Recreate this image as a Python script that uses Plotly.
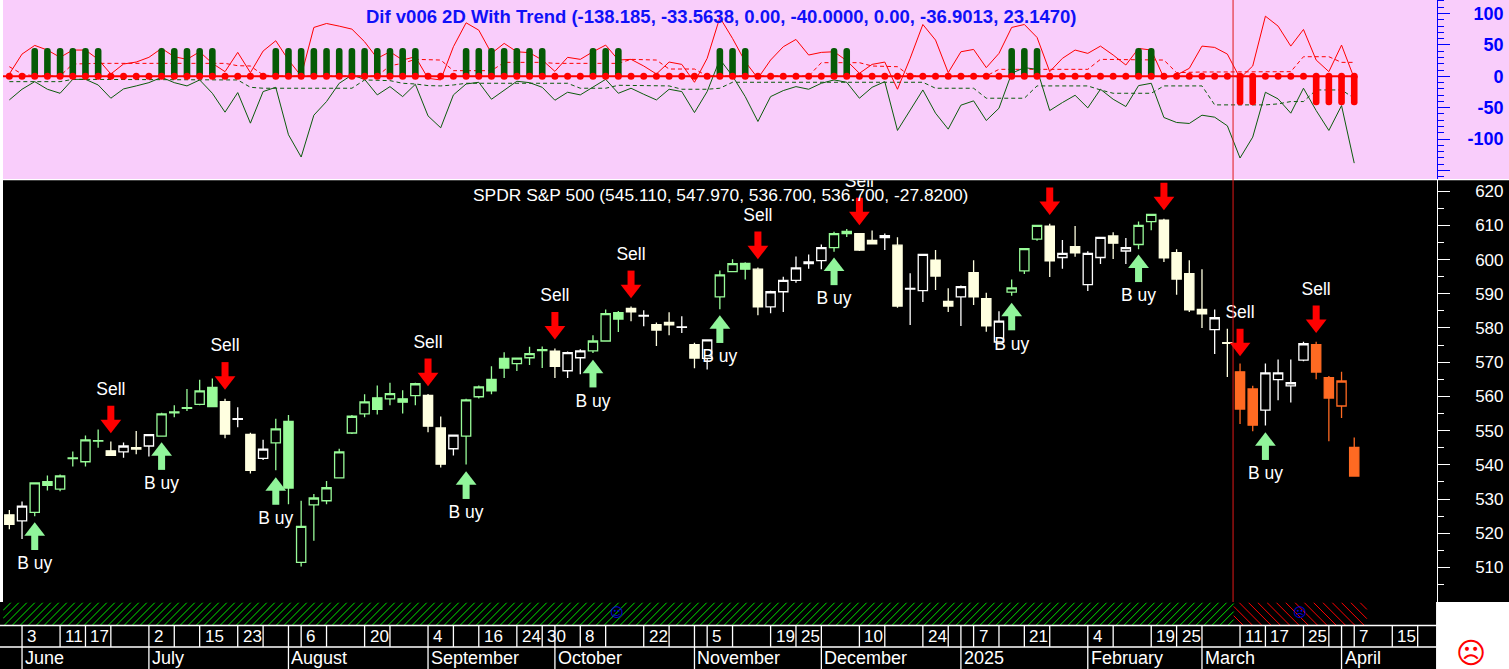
import plotly.graph_objects as go

W, H = 1509, 669

opens = [525.4,523.6,526.1,535.1,532.9,541.8,540.9,546.9,544.1,543.8,545.0,545.5,548.4,555.2,556.5,557.7,562.6,558.5,553.3,548.9,541.9,546.4,552.7,511.5,528.3,529.5,536.2,549.3,554.9,559.6,559.3,559.3,560.2,560.3,550.8,544.7,548.4,559.9,565.0,571.1,569.6,571.3,573.4,573.2,567.5,571.3,573.3,576.2,584.5,585.7,583.5,581.0,581.6,580.2,575.1,571.1,589.1,596.5,598.9,597.2,586.2,590.6,593.9,598.8,599.7,603.5,607.6,607.6,605.6,606.4,604.2,591.4,590.9,599.8,587.8,589.1,596.2,588.6,575.9,590.5,596.7,606.0,609.8,600.6,603.8,592.7,600.6,606.9,602.5,604.4,611.1,611.5,602.0,595.9,585.4,579.5,575.7,567.2,562.2,556.0,564.9,563.1,570.6,575.1,565.5,557.2,545.11]
highs = [526.8,529.3,534.7,536.9,537.2,543.9,548.6,550.3,546.8,546.5,549.9,548.8,555.2,557.4,562.2,564.9,565.2,559.3,556.8,549.4,547.3,553.5,554.6,529.5,531.5,535.3,544.7,554.6,560.6,563.2,564.0,561.8,564.0,560.7,554.1,548.7,559.3,563.2,568.8,572.9,571.2,574.5,574.6,574.0,573.1,573.8,577.9,585.4,585.0,586.3,585.2,581.6,584.6,583.4,575.7,576.5,596.8,600.1,599.2,597.7,590.9,595.0,600.9,601.5,604.4,608.1,608.9,607.7,608.5,607.6,606.5,596.0,601.5,602.8,591.6,592.4,599.8,590.3,584.9,594.2,603.2,610.0,610.5,605.7,609.8,602.4,606.5,608.0,606.3,611.1,613.2,611.9,603.0,599.8,597.2,585.4,579.8,569.6,563.1,569.6,570.8,570.8,576.0,576.0,566.0,567.2,547.97]
lows = [521.2,518.3,525.0,532.5,532.3,539.5,539.5,545.0,542.8,542.1,543.1,542.4,548.4,553.9,555.7,557.4,557.0,547.8,551.0,537.5,541.4,538.4,528.5,510.3,517.8,528.5,536.1,549.0,553.9,554.7,557.4,555.0,557.4,549.5,539.2,542.7,540.1,559.4,560.6,565.4,567.4,569.2,568.3,565.4,565.4,566.5,572.7,576.0,578.8,582.0,580.5,574.7,577.9,578.5,568.2,567.9,585.5,596.5,594.2,583.7,584.3,584.7,593.2,597.3,597.2,602.3,606.6,602.5,604.6,602.8,585.9,580.9,587.6,591.1,584.7,580.6,586.7,578.9,575.9,589.4,595.8,605.5,594.9,597.3,600.8,590.8,598.7,600.2,598.7,603.0,608.6,599.3,589.7,584.7,580.0,572.4,565.7,551.9,549.8,551.5,558.9,558.2,570.3,565.0,546.9,553.7,536.7]
closes = [522.6,527.9,534.7,534.0,536.8,542.0,547.3,547.1,542.8,545.5,544.6,548.8,554.9,555.5,556.7,561.6,557.0,549.0,553.5,538.4,544.6,550.5,533.2,522.0,530.3,533.3,543.8,554.2,558.4,556.2,560.8,558.3,563.7,551.3,540.2,548.7,559.0,562.8,561.6,568.3,571.2,572.5,573.7,568.8,572.8,573.3,576.2,584.2,582.6,584.7,583.7,579.4,580.9,580.3,571.2,576.5,595.5,598.8,597.2,586.2,590.6,593.9,597.6,599.3,603.5,607.6,608.2,602.8,604.6,607.0,586.4,591.6,601.5,595.2,586.4,592.1,589.1,580.6,582.0,591.7,603.2,610.0,599.6,601.8,602.0,601.8,606.5,604.8,603.5,610.0,613.2,600.5,594.3,585.3,584.1,583.0,575.5,556.3,551.6,566.9,566.9,564.0,575.4,567.1,559.5,564.5,536.7]
trend_state = "WWGGGGGGWWWWGGGGGWWWWGGGGGGGGGGGGWWWGGGGGGGWWWGGGWWWWWWWGGGWWWWWWGGWWWWWWWWWWWWGGGWWWWWWWGGWWWWWWOOWWWWOOOO"

dif_upper = [3.7,35.4,49.2,41.8,30.2,41.8,41.8,27,3.7,19.6,22.7,30.2,44.4,31.2,27,39.1,20.6,7.4,38.1,5.8,40.2,56.6,25.9,0.5,77.8,84.1,79.9,75.1,55,28.6,39.1,25.9,31.2,-3.2,-5.8,47.1,85.2,73.5,36.5,52.4,39.1,37.6,25.9,7.9,30.2,27,39.1,49.7,25.9,27,16.4,3.7,22.7,19,-9.5,28.6,93.6,60.3,23.3,-3.2,25.9,47.1,58.7,33.9,38.1,39.1,24.9,4.8,19,22.7,-20.6,28.6,82.5,57.7,5.8,39.1,42.8,13.8,36.5,77.8,82.5,61.9,7.4,28.6,41.8,36.5,48.1,33.9,18,44.4,41.8,-2.6,2.1,12.7,48.1,46,35.4,-3.2,16.4,95.7,79.9,48.1,74.6,25.9,7.4,49.7,-3.2]
dif_lower = [-37.6,-20.6,-8.5,-20.6,-27,-4.8,-4.8,-13.8,-34.9,-20.1,-15.3,-10.1,-1.6,-10.1,-15.3,-5.8,-27,-57.1,-25.9,-74.6,-24.3,-17.5,-93.1,-128.5,-61.9,-40.2,-11.1,2.1,-4.8,-29.6,-16.4,-32.3,-12.7,-63,-82,-29.6,-12.2,-9.5,-36.5,-22.7,-7.9,-10.1,-17.5,-38.1,-25.4,-29.6,-17.5,-4.8,-27,-19,-28.6,-37.6,-20.6,-24.3,-57.7,-24.3,27,0.5,-32.3,-71.9,-32.3,-22.7,-16.4,-20.6,-11.1,-5.8,-9.5,-34.9,-17.5,-8.5,-86.2,-53.4,-21.7,-58.7,-84.1,-46,-39.1,-70.4,-50.8,4.8,13.8,11.1,-54.5,-41.8,-30.2,-50.3,-20.6,-36.5,-48.1,-14.8,-11.1,-65.6,-73.5,-75.1,-61.9,-65.1,-78.8,-130.1,-96.8,-25.4,-36,-58.7,-19,-54.5,-86.2,-46.6,-138.2]
band_upper = [15.3,3.7,0.5,0.5,0.5,19.6,20.6,20.6,20.6,20.6,20.6,20.6,20.6,20.6,20.6,20.6,20.6,20.6,16.9,16.4,2.1,0.5,0.5,0.5,0.5,0.5,0.5,0.5,0.5,0.5,16.9,20.6,27,27,25.9,9,9,9,9,22.2,22.2,22.2,22.2,20.6,20.6,20.6,20.6,20.6,20.6,27,27,25.9,11.6,11.6,11.6,0.5,0.5,0.5,0.5,0.5,0.5,0.5,0.5,0.5,21.7,21.7,21.7,21.7,16.4,15.3,15.3,0.5,0.5,0.5,0.5,0.5,0.5,0.5,11.1,11.1,11.1,11.1,11.1,11.1,11.1,11.1,27,27,27,27,27,25.9,5.8,6.9,6.9,6.9,6.9,6.9,6.9,6.9,7.4,7.4,31.2,31.2,31.2,22.2,22.2]
band_lower = [-8.5,-8.5,-8.5,-8.5,-8.5,-4.8,-4.8,-4.8,-4.8,-4.8,-4.8,-4.8,-4.8,-4.8,-4.8,-4.8,-4.8,-4.8,-5.8,-17.5,-19,-19,-19,-19,-19,-19,-19,-19,-5.8,-5.8,-6.9,-11.1,-12.2,-14.8,-15.3,-13.8,-11.1,-11.1,-11.1,-11.1,-11.1,-11.1,-11.1,-11.1,-11.1,-19,-19,-19,-14.3,-14.3,-14.3,-14.3,-15.3,-20.6,-20.6,-20.6,-19,-9.5,-9.5,-9.5,-9.5,-9.5,-9.5,-9.5,-9.5,-9.5,-9.5,-9.5,-9.5,-9.5,-9.5,-9.5,-9.5,-19,-19,-19,-19,-34.9,-34.9,-34.9,-34.9,-15.3,-15.3,-15.3,-15.3,-15.3,-21.7,-27,-27,-27,-27,-15.3,-15.3,-15.3,-15.3,-45.5,-45.5,-45.5,-45.5,-45.5,-43.9,-40.2,-40.2,-21.7,-21.7,-21.7,-34.9]
bull_signal_value = 45
bear_signal_value = -46

buy_index = [2,12,21,36,46,56,65,79,89,99]
buy_tip = [523.2,546.6,536.4,538.1,570.7,583.7,600.6,587.4,601.5,549.5]
sell_index = [8,17,33,43,49,59,67,82,91,97,103]
sell_tip = [549.2,561.95,563,576.6,588.7,600.1,610,613,614.4,571.7,578.5]

day_ticks = [1,4,6,8,11,13,15,18,20,22,23,25,28,30,33,35,37,40,42,43,45,47,50,52,54,55,57,60,62,64,67,69,72,74,75,76,78,80,82,85,87,90,92,94,97,99,102,104,105,106,109,111]
day_labels = ["3","11","17","","2","","15","23","","","6","","20","","4","","16","24","30","","8","","22","","","5","","19","25","","10","","24","","","7","","21","","4","","19","25","","11","17","25","","","7","15",""]
month_ticks = [1,11,22,33,43,54,64,75,85,94,105]
month_labels = ["June","July","August","September","October","November","December","2025","February","March","April"]

band_segments_start = [-0.5, 96.5]
band_segments_end = [96.5, 107.0]
cursor_index = 96.45

price_title = "SPDR S&P 500 (545.110, 547.970, 536.700, 536.700, -27.8200)"
dif_title = "Dif v006 2D With Trend (-138.185, -33.5638, 0.00, -40.0000, 0.00, -36.9013, 23.1470)"

FONT = "Liberation Sans"
GREEN, CREAM, ORANGE = "#98FB98", "#FFFFE0", "#FF6A22"
DK_GREEN = "#0B5C0B"
PINK = "#F9CDFB"
PX_PER_PRICE = 3.416
PX_PER_BAR = 12.69

n = len(closes)
index = list(range(n))
fx = lambda p: p / W
fy = lambda p: 1 - p / H

fig = go.Figure()

# --- indicator lines
for y, color, dash in [(band_upper, "#FF0000", "4px,3px"), (band_lower, DK_GREEN, "4px,3px"),
                       (dif_upper, "#FF0000", None), (dif_lower, DK_GREEN, None)]:
    fig.add_trace(go.Scatter(x=index, y=y, mode="lines", yaxis="y2",
                             line=dict(color=color, width=1, dash=dash), hoverinfo="skip"))

# --- signal bars and zero dots, above the lines
bull_x = [i for i in index if trend_state[i] == "G"]
bear_x = [i for i in index if trend_state[i] == "O"]
fig.add_trace(go.Bar(x=bull_x, y=[bull_signal_value for _ in bull_x], yaxis="y6", width=0.52,
                     marker=dict(color="#065A06", cornerradius=3, opacity=1, line=dict(width=0))))
fig.add_trace(go.Bar(x=bear_x, y=[bear_signal_value for _ in bear_x], yaxis="y6", width=0.52,
                     marker=dict(color="#FF0000", cornerradius=3, opacity=1, line=dict(width=0))))
fig.add_trace(go.Scatter(x=[-0.5, n - 1], y=[0, 0], yaxis="y6", mode="lines",
                         line=dict(color="#FF0000", width=2)))
fig.add_trace(go.Scatter(x=index, y=[0 for _ in index], yaxis="y6", mode="markers",
                         marker=dict(color="#FF0000", size=7)))

# --- candles
for key, up_line, down_line in [("G", GREEN, GREEN), ("W", "#FFFFFF", CREAM), ("O", ORANGE, ORANGE)]:
    ids = [i for i in index if trend_state[i] == key]
    fig.add_trace(go.Candlestick(
        x=ids, open=[opens[i] for i in ids], high=[highs[i] for i in ids],
        low=[lows[i] for i in ids], close=[closes[i] for i in ids],
        increasing=dict(line=dict(color=up_line, width=1.3), fillcolor="#000000"),
        decreasing=dict(line=dict(color=down_line, width=1.3), fillcolor=down_line),
        whiskerwidth=0, hoverinfo="skip"))

# --- buy / sell arrows and labels
HEAD = 9 / PX_PER_PRICE
STEM = 18.5 / PX_PER_PRICE
BUY_TEXT = 42.4 / PX_PER_PRICE
SELL_TEXT = 42.7 / PX_PER_PRICE
for xs, tips, sign, color, symbol, label, tdist in [
        (buy_index, buy_tip, -1, "#90F59A", "triangle-up", "B uy", BUY_TEXT),
        (sell_index, sell_tip, 1, "#FF0000", "triangle-down", "Sell", SELL_TEXT)]:
    fig.add_trace(go.Scatter(x=xs, y=[t + sign * STEM for t in tips], mode="markers",
                             marker=dict(symbol="line-ns", size=13, line=dict(color=color, width=7))))
    fig.add_trace(go.Scatter(x=xs, y=[t + sign * HEAD for t in tips], mode="markers",
                             marker=dict(symbol=symbol, size=18, color=color, line=dict(width=0))))
    fig.add_trace(go.Scatter(x=xs, y=[t + sign * tdist for t in tips], mode="text", text=[label for _ in xs],
                             textposition="middle center", cliponaxis=True,
                             textfont=dict(family=FONT, size=17.5, color="#FFFFFF")))

# --- trend band: 45-degree hatch lines, cut at each segment's ends
RUN = 22.5 / PX_PER_BAR
for x0, x1, rising, color, gap_px in zip(band_segments_start, band_segments_end, [True, False],
                                         ["#00E800", "#FF0000"], [8.0, 9.3]):
    gap = gap_px / PX_PER_BAR
    hx, hy = [], []
    start = x0 - RUN
    while start < x1:
        a, b = start, start + RUN
        ca, cb = max(a, x0), min(b, x1)
        if ca < cb:
            ya, yb = (ca - a) / RUN, (cb - a) / RUN
            if not rising:
                ya, yb = 1 - ya, 1 - yb
            hx += [ca, cb, None]
            hy += [ya, yb, None]
        start += gap
    fig.add_trace(go.Scatter(x=hx, y=hy, yaxis="y3", mode="lines", line=dict(color=color, width=1), hoverinfo="skip"))

# --- empty traces that keep the tick-label axes alive
fig.add_trace(go.Scatter(x=[None], y=[None], yaxis="y4", mode="markers"))
fig.add_trace(go.Scatter(x=[None], y=[None], yaxis="y5", mode="markers"))

shapes = []
rect = lambda x0, y0, x1, y1, c, layer="below": dict(type="rect", xref="paper", yref="paper", x0=fx(x0), x1=fx(x1),
                                                     y0=fy(y0), y1=fy(y1), fillcolor=c, line=dict(width=0), layer=layer)
shapes.append(rect(0, 0, W, 179, PINK))
shapes.append(rect(0, 179, W, 180.2, "#FFFFFF"))
shapes.append(rect(0, 0, 3, 602, "#FFFFFF"))
shapes.append(rect(1437, 602, W, H, "#FFFFFF"))

white_line = dict(color="#FFFFFF", width=1.3)
for tick in day_ticks:
    shapes.append(dict(type="line", xref="x", yref="paper", x0=tick, x1=tick, y0=fy(625.5), y1=fy(647), line=white_line))
for tick in month_ticks:
    shapes.append(dict(type="line", xref="x", yref="paper", x0=tick, x1=tick, y0=fy(647), y1=0, line=white_line))
for ypx in (625.5, 647):
    shapes.append(dict(type="line", xref="paper", yref="paper", x0=0, x1=fx(1436.7), y0=fy(ypx), y1=fy(ypx), line=white_line))
shapes.append(dict(type="line", xref="paper", yref="paper", x0=fx(1436.7), x1=fx(1436.7), y0=fy(602), y1=0, line=white_line))
shapes.append(dict(type="line", xref="x", yref="paper", x0=cursor_index, x1=cursor_index, y0=fy(602), y1=1,
                   line=dict(color="#E01818", width=1)))

ann = []
def text(xpx, ypx, s, size, color, family=FONT, anchor="center"):
    ann.append(dict(xref="paper", yref="paper", x=fx(xpx), y=fy(ypx), text=s, showarrow=False, xanchor=anchor,
                    yanchor="middle", font=dict(family=family, size=size, color=color)))

text(720.5, 16, "<b>%s</b>" % dif_title, 18.5, "#1010F8")
text(720, 195, price_title, 17.4, "#FFFFFF")
for tick, label in zip(day_ticks, day_labels):
    if label:
        ann.append(dict(xref="x", yref="paper", x=tick, y=fy(636), text=label, showarrow=False, xanchor="left", xshift=3,
                        yanchor="middle", font=dict(family=FONT, size=17, color="#FFFFFF")))
for tick, label in zip(month_ticks, month_labels):
    ann.append(dict(xref="x", yref="paper", x=tick, y=fy(658), text=label, showarrow=False, xanchor="left", xshift=1,
                    yanchor="middle", font=dict(family=FONT, size=18, color="#FFFFFF")))
text(1471, 652.5, "\u2639", 29, "#FF0000", "DejaVu Sans")
text(616.6, 612.5, "\u263A", 13, "#0000E0", "DejaVu Sans")
text(1299.5, 612.5, "\u2639", 13, "#0000E0", "DejaVu Sans")

dom_x = [fx(3), fx(1436.7)]
price_dom = [fy(601.5), fy(180.2)]
dif_dom = [fy(179), 1]
price_range = [500.05, 623.2]
dif_range = [-163.5, 121.5]

fig.update_layout(
    width=W, height=H, margin=dict(l=0, r=0, t=0, b=0), autosize=False,
    paper_bgcolor="#000000", plot_bgcolor="rgba(0,0,0,0)", showlegend=False,
    barmode="overlay", boxgap=0.27, boxgroupgap=0,
    shapes=shapes, annotations=ann,
    xaxis=dict(domain=dom_x, range=[-0.5, 112.5], visible=False, rangeslider=dict(visible=False), anchor="y"),
    yaxis=dict(domain=price_dom, range=price_range, side="right", anchor="x", showgrid=False, zeroline=False,
               showline=True, linecolor="#FFFFFF", linewidth=1.3, ticks="outside", ticklen=12, tickwidth=1,
               tickcolor="#FFFFFF", tick0=0, dtick=10, showticklabels=False,
               minor=dict(ticks="outside", ticklen=6, tickwidth=1, tickcolor="#FFFFFF", tick0=0, dtick=5, showgrid=False)),
    yaxis2=dict(domain=dif_dom, range=dif_range, side="right", anchor="x", showgrid=False, zeroline=False,
                showline=True, linecolor="#0000FF", linewidth=1.3, ticks="outside", ticklen=12, tickwidth=1,
                tickcolor="#0000FF", tick0=0, dtick=50, showticklabels=False,
                minor=dict(ticks="outside", ticklen=6, tickwidth=1, tickcolor="#0000FF", tick0=0, dtick=10, showgrid=False)),
    yaxis3=dict(domain=[fy(625), fy(602.5)], range=[0, 1], visible=False, anchor="x"),
    yaxis4=dict(overlaying="y", range=price_range, anchor="free", position=fx(1503.5), side="left", showgrid=False,
                zeroline=False, showline=False, ticks="", tick0=0, dtick=10, tickcolor="#FFFFFF",
                tickfont=dict(family=FONT, size=17, color="#FFFFFF")),
    yaxis5=dict(overlaying="y2", range=dif_range, anchor="free", position=fx(1503.5), side="left", showgrid=False,
                zeroline=False, showline=False, ticks="", tickmode="array", tickvals=[100, 50, 0, -50, -100],
                ticktext=["100", "50", "0", "-50", "-100"],
                tickfont=dict(family=FONT, size=18, color="#0000FF", weight="bold")),
    yaxis6=dict(overlaying="y2", range=dif_range, visible=False, anchor="x"),
)

fig.write_html("out.html", config=dict(displayModeBar=False),
               post_script="document.body.style.margin='0';document.body.style.overflow='hidden';")
